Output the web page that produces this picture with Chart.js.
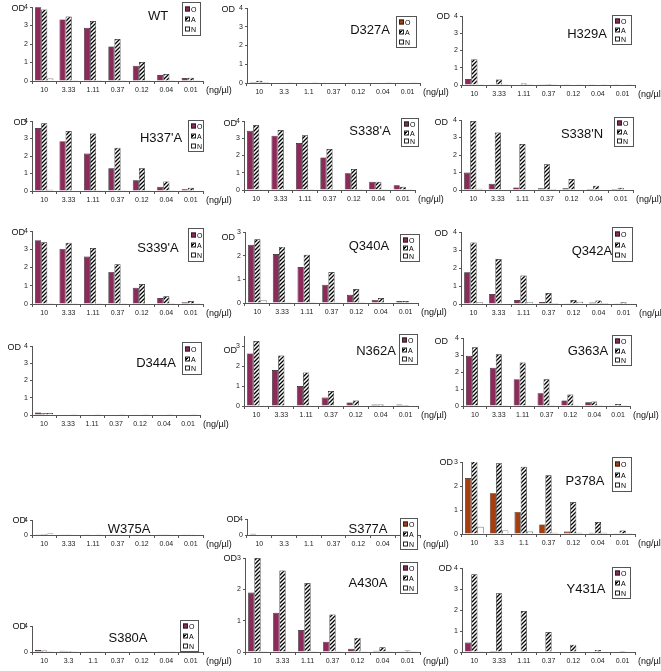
<!DOCTYPE html>
<html><head><meta charset="utf-8">
<script src="https://cdn.jsdelivr.net/npm/chart.js@4.4.1/dist/chart.umd.min.js"></script>
<style>
html,body{margin:0;padding:0;background:#fff;}
body{width:661px;height:671px;position:relative;overflow:hidden;font-family:"Liberation Sans",Arial,sans-serif;}
canvas{position:absolute;}
.t{position:absolute;white-space:nowrap;color:#111;line-height:1;}
.title{font-size:13px;transform:translate(-50%,-50%);}
.od{font-size:9px;transform:translate(-100%,-50%);}
.unit{font-size:9px;transform:translate(0,-50%);}
.lg{position:absolute;border:1px solid #555;background:#fff;box-sizing:border-box;}
.lg .e{position:absolute;left:2px;font-size:7px;line-height:7px;height:7px;white-space:nowrap;transform:translateY(-50%);}
.sw{display:inline-block;width:5px;height:5px;border:1px solid #222;box-sizing:border-box;vertical-align:top;margin:1px 1px 0 0;}
.hatch{background:repeating-linear-gradient(-45deg,#000 0 1px,#fff 1px 2.4px);}
</style></head><body>
<script>
// ---- categories ----
const DOSE_2 = ['10','3.33','1.11','0.37','0.12','0.04','0.01'];
const DOSE_1 = ['10','3.3','1.1','0.37','0.12','0.04','0.01'];
const SERIES = ['O','A','N'];

// ---- series values (OD) ----
const WT_O    = [3.98,3.33,2.88,1.87,0.83,0.32,0.16];
const WT_A    = [3.87,3.48,3.24,2.27,1.03,0.38,0.18];
const WT_N    = [0.13,0.02,0.02,0.04,0.04,0.04,0.02];
const D327A_O = [0.06,0.03,0.03,0.03,0.03,0.03,0.03];
const D327A_A = [0.12,0.03,0.03,0.03,0.03,0.03,0.03];
const D327A_N = [0.06,0.02,0.02,0.03,0.03,0.02,0.02];
const H329A_O = [0.35,0.05,0.03,0.02,0.02,0.02,0.02];
const H329A_A = [1.5,0.32,0.08,0.06,0.03,0.03,0.03];
const H329A_N = [0.04,0.02,0.02,0.02,0.02,0.02,0.02];
const H337A_O = [3.6,2.85,2.14,1.3,0.61,0.25,0.1];
const H337A_A = [3.87,3.43,3.29,2.47,1.3,0.55,0.19];
const H337A_N = [0.07,0.03,0.04,0.04,0.04,0.04,0.03];
const S338A_O = [3.44,3.15,2.72,1.89,0.97,0.48,0.27];
const S338A_A = [3.77,3.48,3.17,2.38,1.22,0.48,0.19];
const S338A_N = [0.05,0.02,0.02,0.05,0.02,0.02,0.02];
const S338N_O = [1.0,0.36,0.15,0.1,0.1,0.06,0.06];
const S338N_A = [3.94,3.28,2.63,1.47,0.63,0.25,0.13];
const S338N_N = [0.07,0.03,0.03,0.06,0.03,0.03,0.03];
const S339A_O = [3.5,3.02,2.6,1.76,0.89,0.33,0.1];
const S339A_A = [3.38,3.36,3.07,2.18,1.09,0.42,0.16];
const S339A_N = [0.04,0.02,0.02,0.04,0.03,0.04,0.02];
const Q340A_O = [2.46,2.07,1.52,0.77,0.35,0.13,0.08];
const Q340A_A = [2.69,2.37,2.04,1.31,0.59,0.21,0.08];
const Q340A_N = [0.12,0.03,0.03,0.03,0.03,0.02,0.02];
const Q342A_O = [1.76,0.55,0.22,0.11,0.04,0.09,0.04];
const Q342A_A = [3.41,2.5,1.58,0.61,0.22,0.2,0.1];
const Q342A_N = [0.1,0.03,0.1,0.05,0.12,0.05,0.03];
const D344A_O = [0.15,0.03,0.03,0.03,0.03,0.03,0.03];
const D344A_A = [0.1,0.03,0.03,0.03,0.03,0.03,0.03];
const D344A_N = [0.12,0.02,0.02,0.02,0.02,0.02,0.02];
const N362A_O = [2.63,1.8,1.0,0.42,0.18,0.07,0.07];
const N362A_A = [3.25,2.52,1.68,0.75,0.27,0.07,0.05];
const N362A_N = [0.03,0.02,0.02,0.02,0.02,0.03,0.02];
const G363A_O = [2.96,2.25,1.58,0.75,0.33,0.22,0.05];
const G363A_A = [3.45,3.04,2.56,1.57,0.67,0.26,0.12];
const G363A_N = [0.03,0.02,0.02,0.02,0.02,0.02,0.02];
const W375A_O = [0.2,0.05,0.05,0.1,0.1,0.05,0.05];
const W375A_A = [0.3,0.1,0.15,0.1,0.15,0.1,0.05];
const W375A_N = [0.4,0.05,0.1,0.05,0.1,0.05,0.05];
const S377A_O = [0.3,0.1,0.1,0.1,0.1,0.1,0.05];
const S377A_A = [0.15,0.1,0.1,0.1,0.1,0.1,0.05];
const S377A_N = [0.1,0.05,0.05,0.05,0.05,0.05,0.05];
const P378A_O = [2.33,1.7,0.92,0.4,0.1,0.05,0.03];
const P378A_A = [3.05,2.95,2.8,2.45,1.33,0.5,0.15];
const P378A_N = [0.3,0.15,0.1,0.05,0.05,0.05,0.03];
const S380A_O = [0.3,0.2,0.1,0.1,0.1,0.1,0.1];
const S380A_A = [0.25,0.15,0.1,0.1,0.1,0.1,0.05];
const S380A_N = [0.1,0.05,0.05,0.05,0.05,0.05,0.05];
const A430A_O = [1.9,1.25,0.7,0.33,0.1,0.04,0.02];
const A430A_A = [3.0,2.6,2.2,1.2,0.45,0.15,0.05];
const A430A_N = [0.02,0.02,0.02,0.02,0.02,0.02,0.02];
const Y431A_O = [0.45,0.05,0.03,0.02,0.02,0.02,0.02];
const Y431A_A = [3.7,2.8,1.95,0.95,0.35,0.1,0.05];
const Y431A_N = [0.03,0.02,0.02,0.02,0.02,0.02,0.02];

// ---- styles ----
const PLUM = '#8C2B5B', BROWN = '#A63E10', AX = '#555', FONT = '"Liberation Sans", Arial, sans-serif';

// ---- layout of panels (page pixels) ----
const PANELS = [
 {name:'WT',    cats:DOSE_2, d:[WT_O,WT_A,WT_N],       oc:PLUM,  ymax:4, step:1, ax:32,  rx:203, ty:7,   zy:81,  t:[158,15],  od:[25,8],   lg:[182,2,19,34]},
 {name:'D327A', cats:DOSE_1, d:[D327A_O,D327A_A,D327A_N], oc:BROWN, ymax:4, step:1, ax:247, rx:420, ty:8,   zy:83,  t:[370,29],  od:[235,9],  lg:[396,16,21,32]},
 {name:'H329A', cats:DOSE_2, d:[H329A_O,H329A_A,H329A_N], oc:PLUM, ymax:4, step:1, ax:462, rx:635, ty:16,  zy:85,  t:[587,33],  od:[450,16], lg:[612,15,20,30]},
 {name:"H337'A",cats:DOSE_2, d:[H337A_O,H337A_A,H337A_N], oc:PLUM, ymax:4, step:1, ax:32,  rx:203, ty:121, zy:191, t:[161,137], od:[27,122], lg:[188,120,16,32]},
 {name:"S338'A",cats:DOSE_2, d:[S338A_O,S338A_A,S338A_N], oc:PLUM, ymax:4, step:1, ax:244, rx:415, ty:121, zy:190, t:[370,130], od:[237,123], lg:[401,118,18,29]},
 {name:"S338'N",cats:DOSE_2, d:[S338N_O,S338N_A,S338N_N], oc:PLUM, ymax:4, step:1, ax:461, rx:633, ty:120, zy:190, t:[582,133], od:[448,122], lg:[614,117,20,30]},
 {name:"S339'A",cats:DOSE_2, d:[S339A_O,S339A_A,S339A_N], oc:PLUM, ymax:4, step:1, ax:32,  rx:203, ty:231, zy:304, t:[158,247], od:[25,232], lg:[188,228,16,34]},
 {name:'Q340A', cats:DOSE_2, d:[Q340A_O,Q340A_A,Q340A_N], oc:PLUM, ymax:3, step:1, ax:245, rx:418, ty:232, zy:303, t:[369,245], od:[235,237], lg:[400,234,20,28]},
 {name:'Q342A', cats:DOSE_2, d:[Q342A_O,Q342A_A,Q342A_N], oc:PLUM, ymax:4, step:1, ax:461, rx:636, ty:232, zy:304, t:[592,250], od:[448,233], lg:[612,227,21,35]},
 {name:'D344A', cats:DOSE_2, d:[D344A_O,D344A_A,D344A_N], oc:PLUM, ymax:4, step:1, ax:32,  rx:200, ty:346, zy:415, t:[156,362], od:[21,347], lg:[182,342,20,33]},
 {name:'N362A', cats:DOSE_2, d:[N362A_O,N362A_A,N362A_N], oc:PLUM, ymax:3.5, step:1, ax:244, rx:418, ty:336, zy:406, t:[376,350], od:[237,350], lg:[399,334,19,31]},
 {name:'G363A', cats:DOSE_2, d:[G363A_O,G363A_A,G363A_N], oc:PLUM, ymax:4, step:1, ax:463, rx:630, ty:338, zy:406, t:[588,350], od:[448,341], lg:[612,335,20,31]},
 {name:'W375A', cats:DOSE_2, d:[W375A_O,W375A_A,W375A_N], oc:PLUM, ymax:4, step:4, ax:32,  rx:203, ty:520, zy:535, t:[129,528], od:[26,520], lg:null},
 {name:'S377A', cats:DOSE_1, d:[S377A_O,S377A_A,S377A_N], oc:BROWN, ymax:4, step:4, ax:247, rx:420, ty:519, zy:535, t:[368,528], od:[240,519], lg:[400,518,18,32]},
 {name:'P378A', cats:DOSE_1, d:[P378A_O,P378A_A,P378A_N], oc:BROWN, ymax:3, step:1, ax:462, rx:635, ty:462, zy:534, t:[585,480], od:[453,462], lg:[612,457,20,35]},
 {name:'S380A', cats:DOSE_1, d:[S380A_O,S380A_A,S380A_N], oc:PLUM, ymax:4, step:4, ax:32,  rx:203, ty:626, zy:652, t:[128,637], od:[26,626], lg:[180,620,19,32]},
 {name:'A430A', cats:DOSE_2, d:[A430A_O,A430A_A,A430A_N], oc:PLUM, ymax:3, step:1, ax:245, rx:420, ty:558, zy:652, t:[368,582], od:[237,558], lg:[400,562,18,32]},
 {name:'Y431A', cats:DOSE_2, d:[Y431A_O,Y431A_A,Y431A_N], oc:PLUM, ymax:4, step:1, ax:462, rx:635, ty:568, zy:652, t:[586,588], od:[452,568], lg:[612,567,19,32]}
];

// hatch pattern for series A
function makeHatch(){
  const s = 4, c = document.createElement('canvas'); c.width = s; c.height = s;
  const g = c.getContext('2d');
  g.fillStyle = '#fff'; g.fillRect(0,0,s,s);
  g.strokeStyle = '#000'; g.lineWidth = 1.3;
  g.beginPath();
  g.moveTo(-1,s+1); g.lineTo(s+1,-1);
  g.moveTo(-1,1); g.lineTo(1,-1);
  g.moveTo(s-1,s+1); g.lineTo(s+1,s-1);
  g.stroke();
  return g.createPattern(c,'repeat');
}

function addText(cls, txt, x, y){
  const e = document.createElement('div');
  e.className = 't ' + cls; e.textContent = txt;
  e.style.left = x + 'px'; e.style.top = y + 'px';
  document.body.appendChild(e);
}

function addLegend(box, oc){
  const [x,y,w,h] = box;
  const L = document.createElement('div');
  L.className = 'lg';
  Object.assign(L.style, {left:x+'px', top:y+'px', width:w+'px', height:h+'px'});
  const fr = [0.2, 0.5, 0.8];
  SERIES.forEach((s,i) => {
    const e = document.createElement('div');
    e.className = 'e';
    e.style.top = (h*fr[i]-1) + 'px';
    const sw = document.createElement('span');
    sw.className = 'sw' + (i===1 ? ' hatch' : '');
    if (i===0) sw.style.background = oc;
    if (i===2) sw.style.background = '#fff';
    e.appendChild(sw);
    e.appendChild(document.createTextNode(s));
    L.appendChild(e);
  });
  document.body.appendChild(L);
}

const HATCH = makeHatch();

function makeChart(p){
  const padL = 24, padT = 8, padR = 8, xh = 18;
  const W = p.rx - p.ax + padL + padR, H = p.zy - p.ty + padT + xh;
  const c = document.createElement('canvas');
  c.width = W; c.height = H;
  Object.assign(c.style, {left:(p.ax-padL)+'px', top:(p.ty-padT)+'px', width:W+'px', height:H+'px'});
  document.body.appendChild(c);
  const fills = [p.oc, HATCH, '#fff'];
  new Chart(c, {
    type:'bar',
    data:{labels:p.cats, datasets:SERIES.map((s,i)=>({label:s, data:p.d[i], backgroundColor:fills[i], borderColor:'#1a1a1a', borderWidth:0.7, categoryPercentage:0.75, barPercentage:1}))},
    options:{
      responsive:false, animation:false, devicePixelRatio:1,
      layout:{padding:{left:0, top:padT, right:padR, bottom:0}},
      plugins:{legend:{display:false}, tooltip:{enabled:false}, title:{display:false}},
      scales:{
        x:{grid:{display:true, drawOnChartArea:false, drawTicks:true, tickLength:3, color:AX, lineWidth:1},
           border:{display:true, color:AX, width:1},
           ticks:{font:{size:7, family:FONT}, color:'#222', padding:2, maxRotation:0, autoSkip:false},
           afterFit:s=>{s.height = xh;}},
        y:{min:0, max:p.ymax,
           grid:{display:true, drawOnChartArea:false, drawTicks:true, tickLength:2, color:AX},
           border:{display:true, color:AX, width:1},
           ticks:{stepSize:p.step, font:{size:7, family:FONT}, color:'#222', padding:2},
           afterBuildTicks:s=>{ s.ticks = s.ticks.filter(t => Number.isInteger(t.value) && t.value % p.step === 0); },
           afterFit:s=>{s.width = padL;}}
      }
    }
  });
}

PANELS.forEach(p => {
  makeChart(p);
  addText('title', p.name, p.t[0], p.t[1]);
  addText('od', 'OD', p.od[0], p.od[1]);
  addText('unit', '(ng/µl)', p.rx + 3, p.zy + 9);
  if (p.lg) addLegend(p.lg, p.oc);
});
</script></body></html>
